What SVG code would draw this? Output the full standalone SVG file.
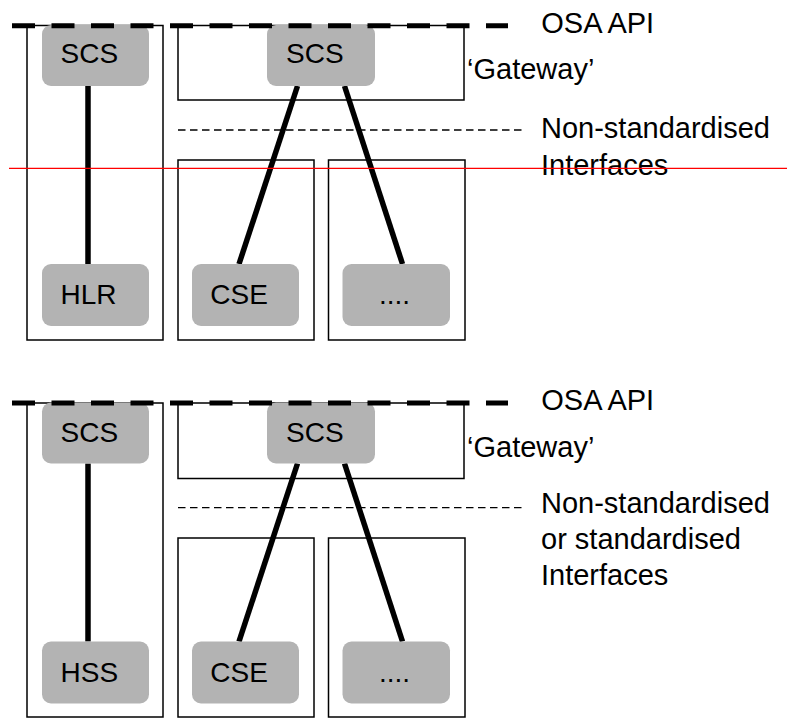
<svg xmlns="http://www.w3.org/2000/svg" width="787" height="720" viewBox="0 0 787 720">
<style>
.box{fill:none;stroke:#000;stroke-width:1.5}
.node{fill:#b3b3b3}
.lbl{font-family:"Liberation Sans",Arial,sans-serif;font-size:28px;fill:#000}
.side{font-family:"Liberation Sans",Arial,sans-serif;font-size:29px;fill:#000}
.conn{stroke:#000;stroke-width:5.5;fill:none}
.api{stroke:#000;stroke-width:5;stroke-dasharray:23 16.5;fill:none}
.nsi{stroke:#000;stroke-width:1.3;stroke-dasharray:7.5 4.5;fill:none}
</style>
<rect width="787" height="720" fill="#fff"/>
<!-- Top diagram -->
<g id="top">
  <g id="top-boxes">
    <rect id="top-left-box" class="box" x="27" y="25.5" width="136" height="314.5"/>
    <rect id="top-gateway-box" class="box" x="178" y="25.5" width="286" height="74.5"/>
    <rect id="top-cse-box" class="box" x="178" y="160" width="136" height="180"/>
    <rect id="top-dots-box" class="box" x="328.5" y="160" width="136.5" height="180"/>
  </g>
  <g id="top-connectors">
    <line class="conn" x1="88" y1="86" x2="88" y2="264"/>
    <line class="conn" x1="297.5" y1="86" x2="239" y2="264"/>
    <line class="conn" x1="344.5" y1="86" x2="402.5" y2="264"/>
  </g>
  <g id="top-scs1"><rect class="node" x="42" y="25" width="107" height="61" rx="9"/><text class="lbl" x="60.5" y="63.3">SCS</text></g>
  <g id="top-scs2"><rect class="node" x="267" y="25" width="108" height="61" rx="9"/><text class="lbl" x="286" y="63.3">SCS</text></g>
  <g id="top-hlr"><rect class="node" x="42" y="264" width="107" height="62" rx="9"/><text class="lbl" x="60.5" y="304">HLR</text></g>
  <g id="top-cse"><rect class="node" x="192" y="264" width="107" height="62" rx="9"/><text class="lbl" x="210.3" y="304">CSE</text></g>
  <g id="top-dots"><rect class="node" x="342.5" y="264" width="107.5" height="62" rx="9"/><text class="lbl" x="379" y="304">....</text></g>
  <line id="top-api" class="api" x1="12" y1="25.7" x2="508" y2="25.7"/>
  <line id="top-nsi" class="nsi" x1="178" y1="130" x2="525" y2="130"/>
  <text class="side" x="541.3" y="33.3">OSA API</text>
  <text class="side" x="467" y="79">‘Gateway’</text>
  <text class="side" x="541" y="138.3">Non-standardised</text>
  <text class="side" x="541" y="175">Interfaces</text>
</g>
<!-- Bottom diagram -->
<g id="bottom">
  <g id="bottom-boxes">
    <rect id="bot-left-box" class="box" x="27" y="403" width="136" height="314"/>
    <rect id="bot-gateway-box" class="box" x="178" y="403" width="286" height="75.5"/>
    <rect id="bot-cse-box" class="box" x="178" y="538" width="136" height="179"/>
    <rect id="bot-dots-box" class="box" x="328.5" y="538" width="136.5" height="179"/>
  </g>
  <g id="bottom-connectors">
    <line class="conn" x1="88" y1="463.5" x2="88" y2="641.5"/>
    <line class="conn" x1="297.5" y1="463.5" x2="239" y2="641.5"/>
    <line class="conn" x1="344.5" y1="463.5" x2="402.5" y2="641.5"/>
  </g>
  <g id="bot-scs1"><rect class="node" x="42" y="402.5" width="107" height="61" rx="9"/><text class="lbl" x="60.5" y="441.7">SCS</text></g>
  <g id="bot-scs2"><rect class="node" x="267" y="402.5" width="108" height="61" rx="9"/><text class="lbl" x="286" y="441.7">SCS</text></g>
  <g id="bot-hss"><rect class="node" x="42" y="641.5" width="107" height="62" rx="9"/><text class="lbl" x="60.5" y="681.7">HSS</text></g>
  <g id="bot-cse"><rect class="node" x="192" y="641.5" width="107" height="62" rx="9"/><text class="lbl" x="210.3" y="681.7">CSE</text></g>
  <g id="bot-dots"><rect class="node" x="342.5" y="641.5" width="107.5" height="62" rx="9"/><text class="lbl" x="379" y="681.7">....</text></g>
  <line id="bot-api" class="api" x1="12" y1="403" x2="508" y2="403"/>
  <line id="bot-nsi" class="nsi" x1="178" y1="507.7" x2="525" y2="507.7"/>
  <text class="side" x="541.3" y="410">OSA API</text>
  <text class="side" x="467" y="456.7">‘Gateway’</text>
  <text class="side" x="541" y="513.3">Non-standardised</text>
  <text class="side" x="541" y="549">or standardised</text>
  <text class="side" x="541" y="584.5">Interfaces</text>
</g>
<line id="red-line" x1="9" y1="168.3" x2="787" y2="168.3" stroke="#ff0000" stroke-width="1.2"/>
</svg>
